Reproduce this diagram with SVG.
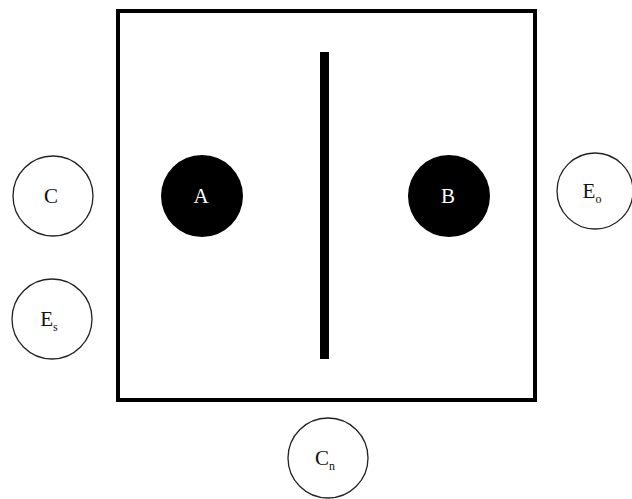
<svg xmlns="http://www.w3.org/2000/svg" width="632" height="499" viewBox="0 0 632 499">
<style>
.o{fill:#fff;stroke:#222;stroke-width:1.3}
.f{fill:#000}
text{font-family:"Liberation Serif",serif;font-size:21px;text-anchor:middle;fill:#111}
text.w{fill:#fff}
.s{font-size:12px}
</style>
<rect width="632" height="499" fill="#fff"/>
<g id="box"><rect x="118" y="11" width="417" height="389" fill="none" stroke="#000" stroke-width="4"/></g>
<g id="wall"><rect x="320" y="52" width="9" height="307" fill="#000"/></g>
<g id="A"><circle class="f" cx="202" cy="196" r="41"/><text class="w" x="201" y="203">A</text></g>
<g id="B"><circle class="f" cx="449" cy="196" r="41"/><text class="w" x="448" y="203">B</text></g>
<g id="C"><circle class="o" cx="53" cy="196" r="40"/><text x="51" y="203">C</text></g>
<g id="Es"><circle class="o" cx="52" cy="319" r="40"/><text x="49" y="326">E<tspan class="s" dy="5">s</tspan></text></g>
<g id="Eo"><circle class="o" cx="595" cy="191" r="38"/><text x="592" y="198">E<tspan class="s" dy="5">o</tspan></text></g>
<g id="Cn"><circle class="o" cx="328" cy="458" r="40"/><text x="325" y="465">C<tspan class="s" dy="5">n</tspan></text></g>
<g id="connectors"/>
</svg>
